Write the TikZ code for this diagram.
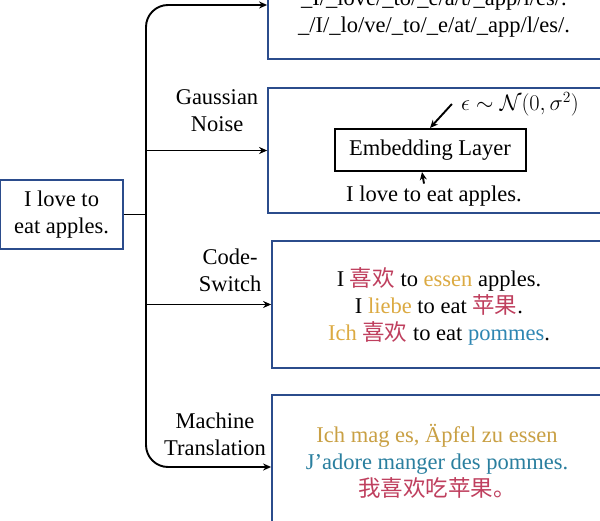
\documentclass[tikz,border=0pt]{standalone}
\usepackage{amsmath,amssymb}
\usepackage{fontspec}
\setmainfont{Liberation Serif}
\newfontfamily\zh{Noto Sans CJK SC}
\usepackage{xcolor}
\usepackage{tikz}
\usetikzlibrary{positioning,calc,arrows.meta}

\definecolor{panelblue}{HTML}{2B4C8C}
\definecolor{augold}{HTML}{DCAA42}
\definecolor{mtgold}{HTML}{C9A044}
\definecolor{aured}{HTML}{BF3F5E}
\definecolor{aublue}{HTML}{2E86B2}
\definecolor{mtblue}{HTML}{2A7F9F}
\newcommand{\fs}{\fontsize{22.5}{27}\selectfont}
\tikzset{
  panel/.style={draw=panelblue, line width=1.8pt, fill=white, inner sep=0pt},
  arr/.style={-{Stealth[length=8pt,width=7pt]}, line width=1.9pt},
  lbl/.style={align=center, font=\fs},
}

\begin{document}
\begin{tikzpicture}[x=1pt,y=-1pt]
        \useasboundingbox (0,0) rectangle (600,521);
        \clip (0,0) rectangle (600,521);

        % Panels
        \node[panel, minimum width=123pt, minimum height=69pt, align=center, font=\fs] (src) at (61.5,214.5) {I love to\\eat apples.};
        \node[panel, minimum width=340pt, minimum height=108pt] (segbox) at (438,5) {};
        \node[panel, minimum width=340pt, minimum height=125pt] (noisebox) at (438,150.5) {};
        \node[panel, minimum width=336pt, minimum height=127pt] (csbox) at (440,304.5) {};
        \node[panel, minimum width=336pt, minimum height=144pt] (mtbox) at (440,467) {};

        % Branch labels
        \node[lbl] (gnlbl) at (217,111) {Gaussian\\Noise};
        \node[lbl] (cslbl) at (230,270) {Code-\\Switch};
        \node[lbl] (mtlbl) at (215,434) {Machine\\Translation};

        % Branches
        \coordinate (fork) at (146,214.5);
        \draw[line width=1.9pt] (src.east) -- (fork);
        \draw[arr, rounded corners=22pt] (fork) |- (segbox.west);
        \draw[arr] (fork) |- (noisebox.west);
        \draw[arr] (fork) |- (csbox.west);
        \draw[arr, rounded corners=22pt] (fork) |- (mtbox.west);

        % Subword segmentation
        \node[lbl] (segtxt) at (434,14) {\_I/\_love/\_to/\_e/a/t/\_app/l/es/.\\\_/I/\_lo/ve/\_to/\_e/at/\_app/l/es/.};

        % Gaussian noise
        \node[draw, line width=2pt, minimum width=191pt, minimum height=42pt, font=\fs] (emb) at (430,150) {Embedding Layer};
        \node[font=\fs, inner xsep=9pt] (eps) at (520,104) {\scalebox{1.08}{$\epsilon\sim\mathcal{N}(0,\sigma^2)$}};
        \node[font=\fs, inner sep=2pt] (inp) at (434,196) {I love to eat apples.};
        \draw[arr] (eps.west) -- (emb.north);
        \draw[arr] ([xshift=-10pt]inp.north) -- ([xshift=-8pt]emb.south);

        % Code-switch
        \node[lbl] (cstxt) at (439,306) {I \textcolor{aured}{\zh 喜欢} to \textcolor{augold}{essen} apples.\\
            I \textcolor{augold}{liebe} to eat \textcolor{aured}{\zh 苹果}.\\
            \textcolor{augold}{Ich} \textcolor{aured}{\zh 喜欢} to eat \textcolor{aublue}{pommes}.};

        % Machine translation
        \node[lbl] (mttxt) at (437,461) {\textcolor{mtgold}{Ich mag es, Äpfel zu essen}\\
            \textcolor{mtblue}{J'adore manger des pommes.}\\
            \textcolor{aured}{\zh 我喜欢吃苹果。}};
    \end{tikzpicture}
\end{document}
